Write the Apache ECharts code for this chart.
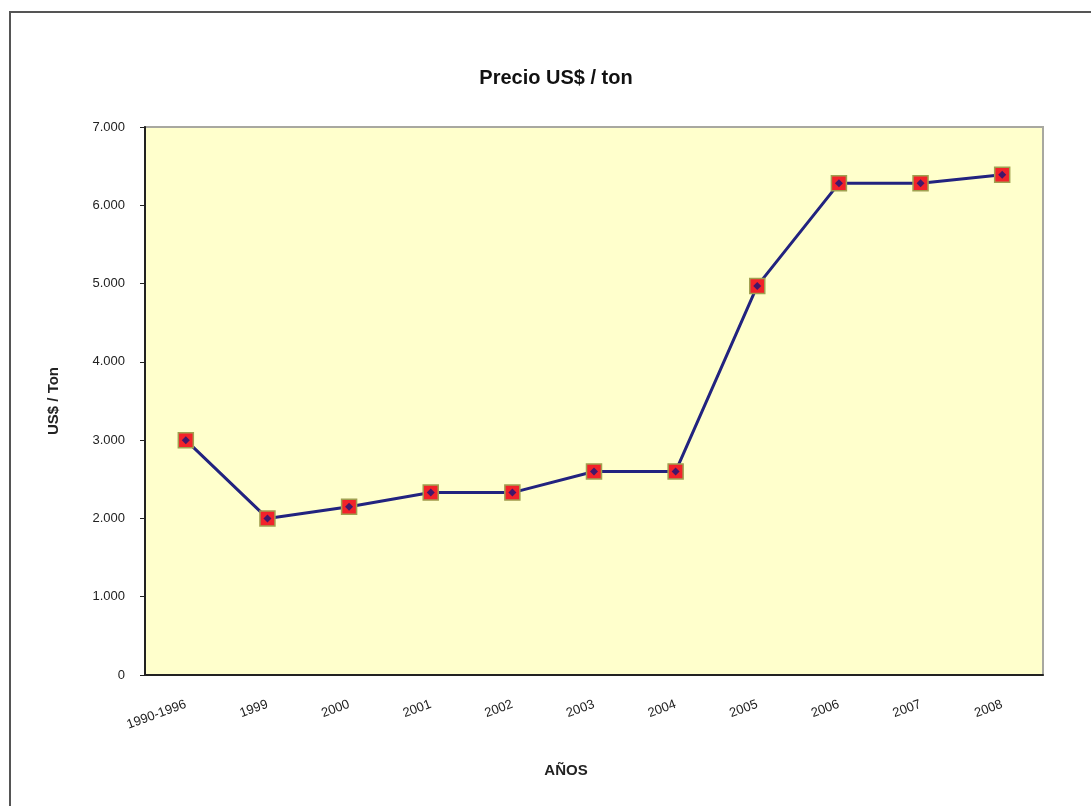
<!DOCTYPE html>
<html>
<head>
<meta charset="utf-8">
<script src="https://cdn.jsdelivr.net/npm/echarts@6/dist/echarts.min.js"></script>
<style>
html,body{margin:0;padding:0;background:#fff;}
#chart{width:1091px;height:806px;}
</style>
</head>
<body>
<div id="chart"></div>
<script>
const categories = ['1990-1996','1999','2000','2001','2002','2003','2004','2005','2006','2007','2008'];
const precio = [3000, 2000, 2150, 2330, 2330, 2600, 2600, 4970, 6280, 6280, 6390];
const yTicks = { min: 0, max: 7000, interval: 1000 };
const titleText = 'Precio US$ / ton';
const yName = 'US$ / Ton';
const xName = 'AÑOS';

function fmt(v){
  return String(v).replace(/\B(?=(\d{3})+(?!\d))/g, '.');
}

const chart = echarts.init(document.getElementById('chart'));
chart.setOption({
  backgroundColor: '#ffffff',
  animation: false,
  title: {
    text: titleText,
    left: 551, top: 63, textAlign: 'center',
    textStyle: { fontFamily: 'Liberation Sans, Arial', fontWeight: 'bold', fontSize: 20, color: '#111' }
  },
  graphic: [{
    type: 'rect', silent: true, z: -1,
    shape: { x: 10, y: 12, width: 1200, height: 900 },
    style: { fill: 'none', stroke: '#555', lineWidth: 2 }
  }],
  grid: {
    left: 145, right: 48, top: 127, bottom: 131,
    show: true, backgroundColor: '#FFFFCC', borderColor: '#a8a8a0', borderWidth: 2
  },
  xAxis: {
    type: 'category',
    data: categories,
    boundaryGap: true,
    name: xName,
    nameLocation: 'middle',
    nameGap: 88,
    nameTextStyle: { fontFamily: 'Liberation Sans, Arial', fontWeight: 'bold', fontSize: 15, color: '#222', padding: [0, 56, 0, 0] },
    axisLine: { lineStyle: { color: '#222', width: 2 } },
    axisTick: { show: false },
    axisLabel: {
      rotate: 20, margin: 29,
      fontFamily: 'Liberation Sans, Arial', fontSize: 13, color: '#222'
    },
    splitLine: { show: false }
  },
  yAxis: {
    type: 'value',
    min: yTicks.min, max: yTicks.max, interval: yTicks.interval,
    name: yName,
    nameLocation: 'middle',
    nameGap: 84,
    nameRotate: 90,
    nameTextStyle: { fontFamily: 'Liberation Sans, Arial', fontWeight: 'bold', fontSize: 15, color: '#222' },
    axisLine: { show: true, lineStyle: { color: '#222', width: 2 } },
    axisTick: { show: true, length: 5, lineStyle: { color: '#222' } },
    axisLabel: { formatter: fmt, margin: 20, fontFamily: 'Liberation Sans, Arial', fontSize: 13, color: '#222' },
    splitLine: { show: false }
  },
  series: [{
    type: 'line',
    data: precio,
    symbol: 'rect',
    symbolSize: 15,
    lineStyle: { color: '#22237F', width: 3 },
    itemStyle: { color: '#F2222A', borderColor: '#A0A050', borderWidth: 1.5 },
    z: 3
  }, {
    type: 'scatter',
    data: precio,
    symbol: 'diamond',
    symbolSize: 8,
    itemStyle: { color: '#15157A' },
    z: 4
  }]
});
</script>
</body>
</html>
